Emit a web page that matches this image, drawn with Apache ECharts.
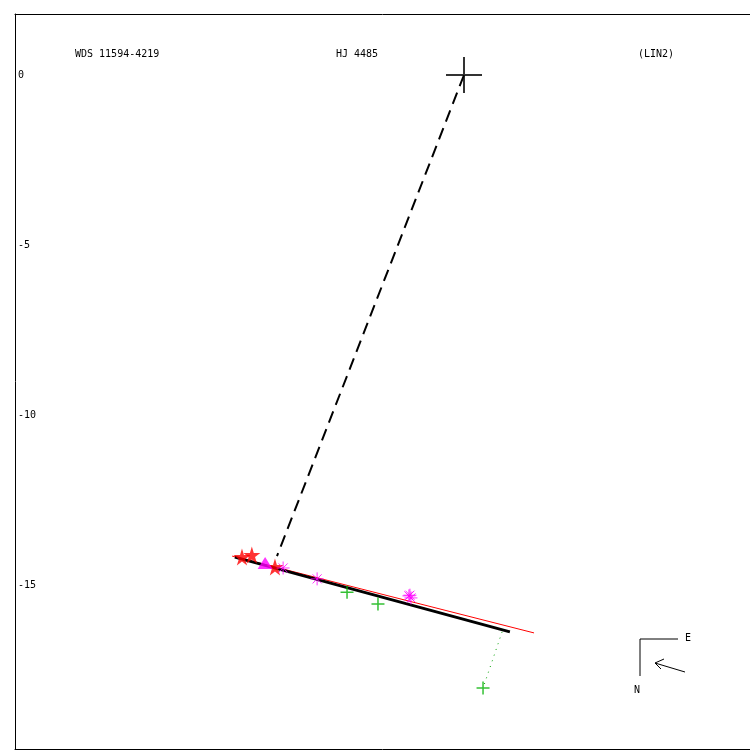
<!DOCTYPE html>
<html>
<head>
<meta charset="utf-8">
<script src="https://cdn.jsdelivr.net/npm/echarts@6/dist/echarts.min.js"></script>
<style>html,body{margin:0;padding:0;background:#fff}#c{width:750px;height:750px}</style>
</head>
<body>
<div id="c"></div>
<script>
const yTicks = [0, -5, -10, -15];
const primary = [[0, 0]];
const redStars = [[-6.53, -14.18], [-6.24, -14.12], [-5.56, -14.47]];
const magentaTriangles = [[-5.85, -14.35]];
const magentaAsterisks = [[-5.32, -14.50], [-4.32, -14.82], [-1.62, -15.32], [-1.56, -15.38], [-1.59, -15.30]];
const greenPlus = [[-3.44, -15.21], [-2.53, -15.56], [0.56, -18.03]];
const orbitLine = [[-6.74, -14.18], [1.35, -16.38]];
const fitLine = [[-6.82, -14.15], [2.06, -16.41]];
const nodeLine = [[0, 0], [-5.5, -14.15]];
const residual = [[1.12, -16.38], [0.56, -18.03]];
const titles = ['WDS 11594-4219', 'HJ 4485', '(LIN2)'];

const STAR = 'path://M50,0L61,35L98,35L68,57L79,92L50,70L21,92L32,57L2,35L39,35Z';
const ASTER = 'path://M0,5L10,5M5,0L5,10M1.5,1.5L8.5,8.5M1.5,8.5L8.5,1.5';
const PLUS = 'path://M0,5L10,5M5,0L5,10';

const chart = echarts.init(document.getElementById('c'), null, {renderer: 'canvas'});
const mono = 'DejaVu Sans Mono';
const XMIN = -13.206, XMAX = 8.412;
const hiddenX = {type: 'value', min: XMIN, max: XMAX, axisLine: {show: true, onZero: false, lineStyle: {color: '#000', width: 1}}, axisTick: {show: false}, axisLabel: {show: false}, splitLine: {show: false}};
chart.setOption({
  animation: false,
  grid: {left: 15, top: 14, width: 735, height: 735},
  xAxis: [Object.assign({position: 'bottom'}, hiddenX), Object.assign({position: 'top'}, hiddenX)],
  yAxis: {type: 'value', min: -19.824, max: 1.794,
    axisLine: {show: true, onZero: false, lineStyle: {color: '#000', width: 1}}, axisTick: {show: false}, splitLine: {show: false},
    axisLabel: {inside: true, margin: 3, customValues: yTicks, color: '#000', fontFamily: mono, fontSize: 10}},
  graphic: [
    {type: 'text', left: 75, top: 49, style: {text: titles[0], font: '10px ' + mono, fill: '#000'}},
    {type: 'text', left: 336, top: 49, style: {text: titles[1], font: '10px ' + mono, fill: '#000'}},
    {type: 'text', left: 638, top: 49, style: {text: titles[2], font: '10px ' + mono, fill: '#000'}},
    {type: 'polyline', shape: {points: [[678, 639], [640, 639], [640, 676]]}, style: {stroke: '#000', lineWidth: 1, fill: null}},
    {type: 'text', left: 685, top: 633, style: {text: 'E', font: '10px ' + mono, fill: '#000'}},
    {type: 'text', left: 634, top: 685, style: {text: 'N', font: '10px ' + mono, fill: '#000'}},
    {type: 'polyline', shape: {points: [[685, 672], [655, 663]]}, style: {stroke: '#000', lineWidth: 1, fill: null}},
    {type: 'polyline', shape: {points: [[664, 659], [655, 663], [661, 669]]}, style: {stroke: '#000', lineWidth: 1, fill: null}}
  ],
  series: [
    {type: 'line', data: nodeLine, symbol: 'none', lineStyle: {color: '#000', width: 2, type: [12, 7]}, z: 2},
    {type: 'line', data: fitLine, symbol: 'none', lineStyle: {color: '#ff0000', width: 1}, z: 3},
    {type: 'line', data: orbitLine, symbol: 'none', lineStyle: {color: '#000', width: 3}, z: 4},
    {type: 'line', data: residual, symbol: 'none', lineStyle: {color: '#00a000', width: 1, type: [1, 5]}, z: 2},
    {type: 'scatter', data: primary, symbol: PLUS, symbolSize: 36, itemStyle: {color: 'transparent', borderColor: '#000', borderWidth: 2}, z: 5},
    {type: 'scatter', data: redStars, symbol: STAR, symbolSize: 17, itemStyle: {color: '#ff0000'}, z: 5},
    {type: 'scatter', data: magentaTriangles, symbol: 'triangle', symbolSize: [15, 12], itemStyle: {color: '#ff00ff'}, z: 5},
    {type: 'scatter', data: magentaAsterisks, symbol: ASTER, symbolSize: 13, itemStyle: {color: 'transparent', borderColor: '#ff00ff', borderWidth: 1}, z: 6},
    {type: 'scatter', data: greenPlus, symbol: PLUS, symbolSize: 13, itemStyle: {color: 'transparent', borderColor: '#00b000', borderWidth: 1.5}, z: 5}
  ]
});
</script>
</body>
</html>
